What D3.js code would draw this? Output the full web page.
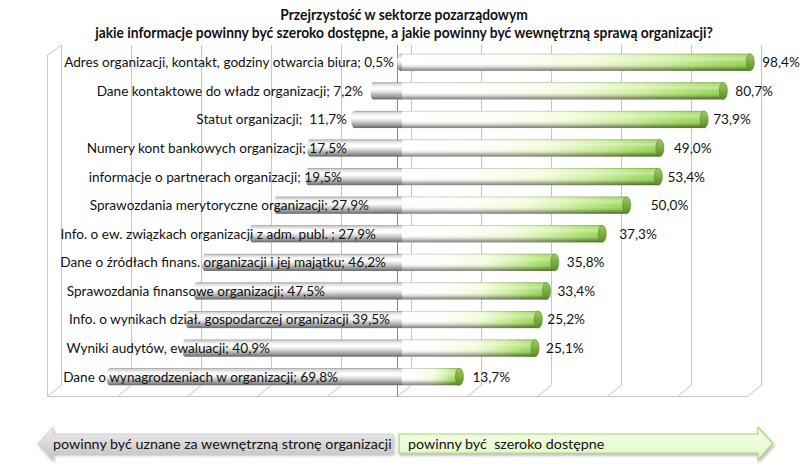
<!DOCTYPE html>
<html><head><meta charset="utf-8">
<script src="https://cdn.jsdelivr.net/npm/d3@7"></script>
<style>
body{margin:0;background:#fff}
text{font-family:Lato,"Noto Sans",sans-serif;white-space:pre}
</style>
</head><body><svg id="c" width="808" height="470"></svg>
<script>
// ---------------- data ----------------
const titleLines = [
  "Przejrzystość w sektorze pozarządowym",
  "jakie informacje powinny być szeroko dostępne, a jakie powinny być wewnętrzną sprawą organizacji?"
];
const categories = [
  "Adres organizacji, kontakt, godziny otwarcia biura",
  "Dane kontaktowe do władz organizacji",
  "Statut organizacji",
  "Numery kont bankowych organizacji",
  "informacje o partnerach organizacji",
  "Sprawozdania merytoryczne organizacji",
  "Info. o ew. związkach organizacji z adm. publ.",
  "Dane o źródłach finans. organizacji i jej majątku",
  "Sprawozdania finansowe organizacji",
  "Info. o wynikach dział. gospodarczej organizacji",
  "Wyniki audytów, ewaluacji",
  "Dane o wynagrodzeniach w organizacji"
];
const labelSep = ["; ", "; ", ";  ", "; ", "; ", "; ", " ; ", "; ", "; ", " ", "; ", "; "];
const internalPct = [0.5, 7.2, 11.7, 17.5, 19.5, 27.9, 27.9, 46.2, 47.5, 39.5, 40.9, 69.8];
const publicPct   = [98.4, 80.7, 73.9, 49.0, 53.4, 50.0, 37.3, 35.8, 33.4, 25.2, 25.1, 13.7];
const arrowLabels = ["powinny być uznane za wewnętrzną stronę organizacji", "powinny być  szeroko dostępne"];
const gridTicks = [-1, -0.8, -0.6, -0.4, -0.2, 0, 0.2, 0.4, 0.6, 0.8, 1];

// ---------------- layout (manual label placement, as in original) ----------------
const LABEL_END = [394, 363, 347, 347, 342, 369, 376, 386, 325, 390, 270, 338];
const VALUE_DX  = [8, 8, 5, 10, 5, 20, 13, 8, 7, 5, 7, 9];

const fmt = v => d3.format(".1f")(v).replace(".", ",") + "%";
const svg = d3.select("#c");
const defs = svg.append("defs");

function condense(sel, f) {
  sel.each(function(){ const L = this.getComputedTextLength(); d3.select(this).attr("textLength", L*f).attr("lengthAdjust","spacingAndGlyphs"); });
}
function grad(id, stops, vertical) {
  const g = defs.append("linearGradient").attr("id", id)
    .attr("x1",0).attr("y1",0).attr("x2", vertical?0:1).attr("y2", vertical?1:0);
  stops.forEach(s => g.append("stop").attr("offset", s[0]).attr("stop-color", s[1]).attr("stop-opacity", s[2]===undefined?1:s[2]));
}
grad("greyV", [[0,"#949494"],[0.08,"#d4d4d4"],[0.25,"#f8f8f8"],[0.4,"#ffffff"],[0.6,"#d8d8d8"],[0.85,"#969696"],[1,"#666666"]], true);
grad("greenH", [[0,"#ffffff"],[0.3,"#fdfef6"],[0.55,"#f1fbd8"],[0.75,"#cdee9c"],[0.9,"#a9df68"],[1,"#94d452"]], false);
grad("shadeV", [[0,"#000",0.3],[0.08,"#fff",0.15],[0.3,"#fff",0.4],[0.55,"#fff",0],[0.85,"#000",0.28],[1,"#000",0.5]], true);
grad("capG", [[0,"#9acb5e"],[0.5,"#7bb040"],[1,"#5a8a2a"]], true);
grad("arrowGrey", [[0,"#eeeeee"],[0.5,"#d9d9d9"],[1,"#c2c2c2"]], true);
grad("arrowGreen", [[0,"#f4ffe6"],[1,"#e2f8c6"]], true);
const flt = defs.append("filter").attr("id","sh").attr("x","-10%").attr("y","-30%").attr("width","130%").attr("height","180%");
flt.append("feDropShadow").attr("dx",1).attr("dy",2).attr("stdDeviation",1.5).attr("flood-color","#000").attr("flood-opacity",0.3);

// ---------------- scales ----------------
const xBack  = d3.scaleLinear().domain([-1, 1]).range([61, 761]);
const xFront = d3.scaleLinear().domain([-1, 1]).range([47, 747]);
const xBar   = d3.scaleLinear().domain([-1, 1]).range([52, 752]);
const y = d3.scaleBand().domain(categories).range([48, 391]).paddingInner(0.4).paddingOuter(0.2);
const wallTop = 45, wallBottom = 385, floorFront = 396;

// ---------------- walls / floor ----------------
const grid = svg.append("g").attr("stroke", "#c6c6c6").attr("fill", "none").attr("stroke-width", 1);
gridTicks.forEach(t => {
  grid.append("line").attr("x1", xBack(t)+0.5).attr("x2", xBack(t)+0.5).attr("y1", wallTop).attr("y2", wallBottom);
  grid.append("line").attr("x1", xBack(t)+0.5).attr("y1", wallBottom).attr("x2", xFront(t)+0.5).attr("y2", floorFront+0.5);
});
grid.append("line").attr("x1", xFront(-1)).attr("x2", xFront(1)).attr("y1", floorFront+0.5).attr("y2", floorFront+0.5);
grid.append("line").attr("x1", xFront(-1)+0.5).attr("x2", xFront(-1)+0.5).attr("y1", wallTop+10).attr("y2", floorFront);
grid.append("line").attr("x1", xFront(-1)+0.5).attr("y1", wallTop+10).attr("x2", xBack(-1)+0.5).attr("y2", wallTop);
// category axis at 0
svg.append("line").attr("x1", xFront(0)+0.5).attr("x2", xFront(0)+0.5).attr("y1", wallTop).attr("y2", floorFront+1)
  .attr("stroke", "#8a8a8a").attr("stroke-width", 1);

// ---------------- bars ----------------
const rows = categories.map((c, i) => {
  const tot = internalPct[i] + publicPct[i];
  return { c, i, gs: internalPct[i] / tot, ps: publicPct[i] / tot };
});
const bh = y.bandwidth();
const bars = svg.append("g").selectAll("g").data(rows).join("g")
  .attr("transform", d => `translate(0,${y(d.c)})`);
bars.append("ellipse").attr("cx", d => xBar(-d.gs)).attr("cy", bh/2).attr("rx", 3).attr("ry", bh/2)
  .attr("fill", "url(#greyV)");
bars.append("rect").attr("x", d => xBar(-d.gs)).attr("width", d => xBar(0) - xBar(-d.gs) + 0.5)
  .attr("y", 0).attr("height", bh).attr("fill", "url(#greyV)");
bars.append("rect").attr("x", xBar(0)).attr("width", d => xBar(d.ps) - xBar(0))
  .attr("y", 0).attr("height", bh).attr("fill", "url(#greenH)");
bars.append("rect").attr("x", xBar(0)).attr("width", d => xBar(d.ps) - xBar(0))
  .attr("y", 0).attr("height", bh).attr("fill", "url(#shadeV)");
bars.append("ellipse").attr("cx", d => xBar(d.ps)).attr("cy", bh/2).attr("rx", 4).attr("ry", bh/2)
  .attr("fill", "url(#capG)").attr("stroke", "#5c8a2e").attr("stroke-width", 0.6);

// category labels
const catLab = svg.append("g").selectAll("text").data(rows).join("text")
  .attr("x", d => LABEL_END[d.i]).attr("y", d => y(d.c) + bh/2).attr("dy", "0.36em")
  .attr("text-anchor", "end").attr("font-size", 13.6).attr("fill", "#111")
  .text(d => d.c + labelSep[d.i] + fmt(internalPct[d.i]));
// value labels
const valLab = svg.append("g").selectAll("text").data(rows).join("text")
  .attr("x", d => xBar(d.ps) + 4 + VALUE_DX[d.i]).attr("y", d => y(d.c) + bh/2).attr("dy", "0.36em")
  .attr("font-size", 13.6).attr("fill", "#111")
  .text(d => fmt(publicPct[d.i]));

// ---------------- title ----------------
const tt = svg.append("g").selectAll("text").data(titleLines).join("text")
  .attr("x", 404).attr("y", (d, i) => 20 + i * 18).attr("text-anchor", "middle")
  .attr("font-size", 14.4).attr("font-weight", "bold").attr("fill", "#111").text(d => d);
condense(tt, 0.96);

// ---------------- bottom arrows ----------------
const aMid = 443.5, shaftH = 19, headH = 33, headL = 15;
const ax = d3.scaleLinear().domain([-1, 1]).range([38, 773]);
const split = xFront(0);
const leftArrow = [[ax(-1), aMid], [ax(-1)+headL, aMid-headH/2], [ax(-1)+headL, aMid-shaftH/2], [split-4, aMid-shaftH/2],
                   [split-4, aMid+shaftH/2], [ax(-1)+headL, aMid+shaftH/2], [ax(-1)+headL, aMid+headH/2]];
const rightArrow = [[ax(1), aMid], [ax(1)-headL, aMid-headH/2], [ax(1)-headL, aMid-shaftH/2], [split+2, aMid-shaftH/2],
                    [split+2, aMid+shaftH/2], [ax(1)-headL, aMid+shaftH/2], [ax(1)-headL, aMid+headH/2]];
const line = d3.line();
svg.append("path").attr("d", line(leftArrow) + "Z").attr("fill", "url(#arrowGrey)")
  .attr("stroke", "#c8c8c8").attr("stroke-width", 0.8).attr("filter", "url(#sh)");
svg.append("path").attr("d", line(rightArrow) + "Z").attr("fill", "url(#arrowGreen)")
  .attr("stroke", "#a8d47a").attr("stroke-width", 1.2).attr("filter", "url(#sh)");
const al = svg.append("g").selectAll("text").data(arrowLabels).join("text")
  .attr("x", (d, i) => i === 0 ? ax(-1)+headL : split + 11).attr("y", aMid).attr("dy", "0.36em")
  .attr("font-size", 14).attr("fill", "#111").text(d => d);
condense(al, 1.02);
</script>
</body></html>
